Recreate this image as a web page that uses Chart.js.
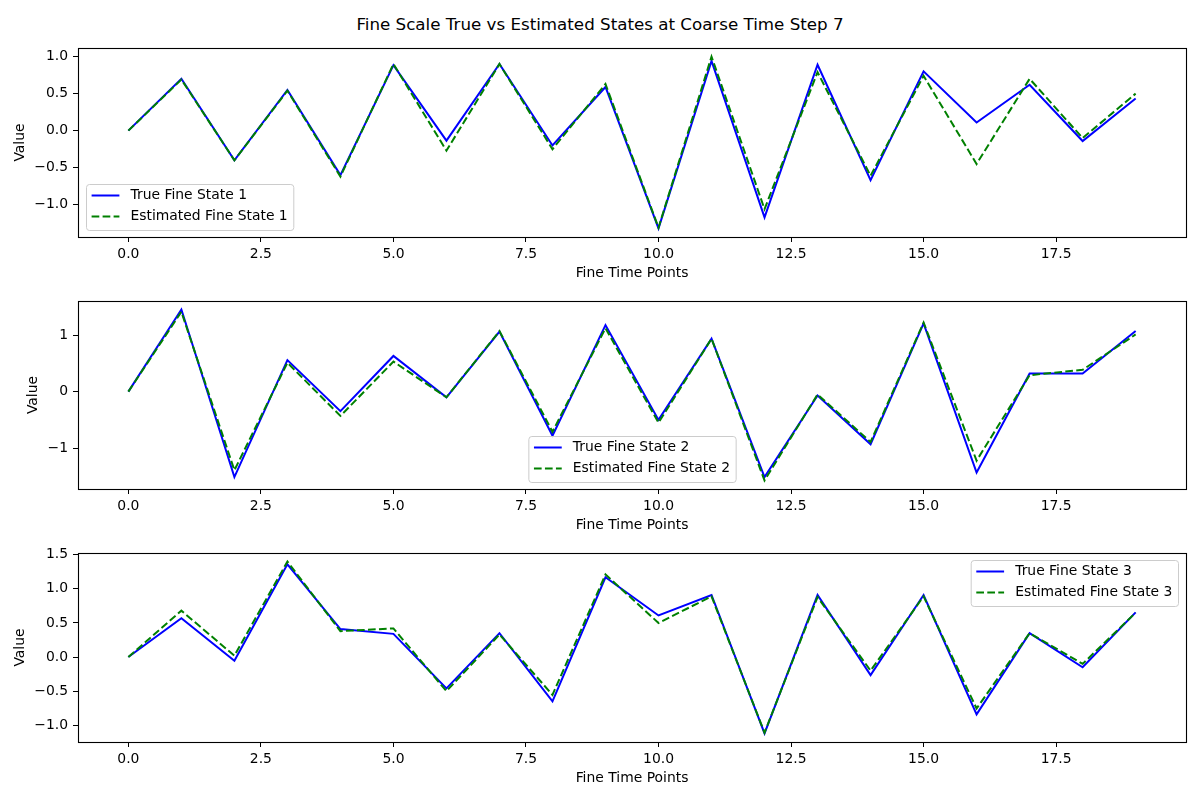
<!DOCTYPE html>
<html>
<head>
<meta charset="utf-8">
<title>Fine Scale True vs Estimated States</title>
<script src="https://cdn.jsdelivr.net/npm/chart.js@4.4.1/dist/chart.umd.min.js"></script>
<style>
  body { margin: 0; background: #fff; width: 1200px; height: 800px; position: relative; overflow: hidden; font-family: "DejaVu Sans", sans-serif; }
  h1 { position: absolute; top: 13px; left: 0; width: 1200px; margin: 0; text-align: center; font-weight: normal; font-size: 16.7px; line-height: 22px; color: #000; }
  canvas { position: absolute; left: 0; }
</style>
</head>
<body>
<h1>Fine Scale True vs Estimated States at Coarse Time Step 7</h1>
<canvas id="state1" width="1200" height="247" style="top:40px"></canvas>
<canvas id="state2" width="1200" height="246" style="top:293px"></canvas>
<canvas id="state3" width="1200" height="247" style="top:545px"></canvas>
<script>
'use strict';

var finePoints = [0, 1, 2, 3, 4, 5, 6, 7, 8, 9, 10, 11, 12, 13, 14, 15, 16, 17, 18, 19];
var xTicks = [0, 2.5, 5, 7.5, 10, 12.5, 15, 17.5];

var trueState1 = [0, 0.70, -0.40, 0.55, -0.60, 0.885, -0.135, 0.90, -0.20, 0.59, -1.32, 0.94, -1.17, 0.89, -0.67, 0.80, 0.11, 0.62, -0.14, 0.435];
var estState1 = [0, 0.69, -0.40, 0.54, -0.62, 0.90, -0.27, 0.90, -0.25, 0.63, -1.31, 1.00, -1.06, 0.79, -0.61, 0.74, -0.45, 0.70, -0.10, 0.50];

var trueState2 = [0, 1.45, -1.51, 0.556, -0.345, 0.63, -0.10, 1.06, -0.78, 1.175, -0.50, 0.935, -1.51, -0.07, -0.93, 1.205, -1.43, 0.32, 0.32, 1.07];
var estState2 = [0, 1.41, -1.39, 0.51, -0.43, 0.53, -0.10, 1.07, -0.71, 1.12, -0.55, 0.935, -1.57, -0.05, -0.89, 1.22, -1.22, 0.29, 0.385, 1.01];

var trueState3 = [0, 0.57, -0.055, 1.36, 0.41, 0.34, -0.46, 0.35, -0.65, 1.17, 0.61, 0.91, -1.12, 0.91, -0.265, 0.91, -0.84, 0.35, -0.15, 0.655];
var estState3 = [0, 0.68, 0.02, 1.40, 0.38, 0.42, -0.50, 0.33, -0.555, 1.21, 0.50, 0.89, -1.11, 0.88, -0.20, 0.89, -0.755, 0.35, -0.10, 0.65];

var yTicks1 = [-1, -0.5, 0, 0.5, 1];
var yTicks2 = [-1, 0, 1];
var yTicks3 = [-1, -0.5, 0, 0.5, 1, 1.5];

var FONT = 'DejaVu Sans';
var FONT_SIZE = 13.9;

var minusSign = function minusSign(s) {
  return s.replace('-', '\u2212');
};

var toPoints = function toPoints(vals) {
  return finePoints.map(function(x, i) {
    return { x: x, y: vals[i] };
  });
};

// axes box on all four sides, like matplotlib spines
var framePlugin = {
  id: 'frame',
  afterDraw: function(chart) {
    var ctx = chart.ctx, a = chart.chartArea;
    ctx.save();
    ctx.strokeStyle = '#000';
    ctx.lineWidth = 1.1;
    ctx.strokeRect(Math.round(a.left) + 0.5, Math.round(a.top) + 0.5, Math.round(a.right - a.left), Math.round(a.bottom - a.top));
    ctx.restore();
  }
};

// legend box drawn inside the plot area
var boxLegendPlugin = {
  id: 'boxLegend',
  afterDraw: function(chart, args, opts) {
    var ctx = chart.ctx, a = chart.chartArea;
    var pad = 5.6, handle = 27.8, gap = 11.1, h = 46;
    var textW = 0, x, y;

    ctx.save();
    ctx.font = FONT_SIZE + 'px "' + FONT + '"';
    chart.data.datasets.forEach(function(ds) {
      textW = Math.max(textW, ctx.measureText(ds.label).width);
    });
    var w = pad * 2 + handle + gap + textW;

    if (opts.loc === 'lower left') {
      x = a.left + 8; y = a.bottom - 7 - h;
    } else if (opts.loc === 'lower center') {
      x = (a.left + a.right) / 2 - w / 2; y = a.bottom - 7 - h;
    } else {
      x = a.right - 8 - w; y = a.top + 7;
    }

    ctx.beginPath();
    ctx.roundRect(x + 0.5, y + 0.5, w, h, 3);
    ctx.fillStyle = 'rgba(255,255,255,0.8)';
    ctx.fill();
    ctx.strokeStyle = '#cccccc';
    ctx.lineWidth = 1;
    ctx.stroke();

    chart.data.datasets.forEach(function(ds, i) {
      var rowY = y + 11.5 + i * 21;
      ctx.beginPath();
      ctx.setLineDash(ds.borderDash || []);
      ctx.strokeStyle = ds.borderColor;
      ctx.lineWidth = ds.borderWidth;
      ctx.moveTo(x + pad, rowY);
      ctx.lineTo(x + pad + handle, rowY);
      ctx.stroke();
      ctx.setLineDash([]);
      ctx.fillStyle = '#000';
      ctx.textBaseline = 'middle';
      ctx.textAlign = 'left';
      ctx.fillText(ds.label, x + pad + handle + gap, rowY);
    });
    ctx.restore();
  }
};

var makeChart = function makeChart(canvasId, n, trueVals, estVals, yTicks, decimals, titlePad, legendLoc) {
  var all = trueVals.concat(estVals);
  var lo = Math.min.apply(null, all), hi = Math.max.apply(null, all);
  var margin = (hi - lo) * 0.05;
  var tickFont = { family: FONT, size: FONT_SIZE };

  return new Chart(document.getElementById(canvasId), {
    type: 'line',
    data: {
      datasets: [{
        label: 'True Fine State ' + n,
        data: toPoints(trueVals),
        borderColor: '#0000ff',
        borderWidth: 2,
        pointRadius: 0,
        tension: 0,
        fill: false,
        order: 2
      }, {
        label: 'Estimated Fine State ' + n,
        data: toPoints(estVals),
        borderColor: '#008000',
        borderWidth: 2,
        borderDash: [7.7, 3.3],
        pointRadius: 0,
        tension: 0,
        fill: false,
        order: 1
      }]
    },
    options: {
      responsive: false,
      animation: false,
      events: [],
      layout: { padding: { top: 8, right: 14, bottom: 0, left: 0 } },
      plugins: {
        legend: { display: false },
        tooltip: { enabled: false },
        boxLegend: { loc: legendLoc }
      },
      scales: {
        x: {
          type: 'linear',
          min: finePoints[0] - 0.95,
          max: finePoints[finePoints.length - 1] + 0.95,
          afterBuildTicks: function(s) {
            s.ticks = xTicks.map(function(v) { return { value: v }; });
          },
          afterFit: function(s) {
            s.height = 50;
            s.paddingLeft = 0;
            s.paddingRight = 0;
          },
          ticks: {
            color: '#000',
            font: tickFont,
            padding: 4,
            maxRotation: 0,
            autoSkip: false,
            callback: function(v) { return Number(v).toFixed(1); }
          },
          grid: { drawOnChartArea: false, tickLength: 5, color: '#000' },
          border: { display: false },
          title: {
            display: true,
            text: 'Fine Time Points',
            color: '#000',
            font: tickFont,
            padding: { top: 0, bottom: 5.6 }
          }
        },
        y: {
          type: 'linear',
          min: lo - margin,
          max: hi + margin,
          afterBuildTicks: function(s) {
            s.ticks = yTicks.map(function(v) { return { value: v }; });
          },
          afterFit: function(s) {
            s.width = 78;
            s.paddingTop = 0;
            s.paddingBottom = 0;
          },
          ticks: {
            color: '#000',
            font: tickFont,
            padding: 5,
            autoSkip: false,
            callback: function(v) { return minusSign(Number(v).toFixed(decimals)); }
          },
          grid: { drawOnChartArea: false, tickLength: 5, color: '#000' },
          border: { display: false },
          title: {
            display: true,
            text: 'Value',
            color: '#000',
            font: tickFont,
            padding: { top: titlePad, bottom: 0 }
          }
        }
      }
    },
    plugins: [framePlugin, boxLegendPlugin]
  });
};

makeChart('state1', 1, trueState1, estState1, yTicks1, 1, 12, 'lower left');
makeChart('state2', 2, trueState2, estState2, yTicks2, 0, 25, 'lower center');
makeChart('state3', 3, trueState3, estState3, yTicks3, 1, 12, 'upper right');
</script>
</body>
</html>
